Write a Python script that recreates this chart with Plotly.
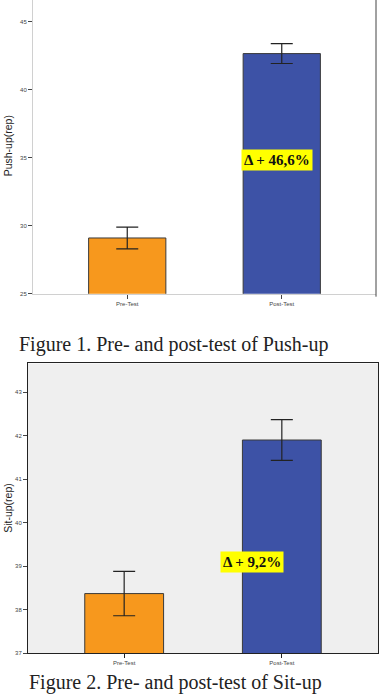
import plotly.graph_objects as go

W, H = 381, 699

categories = ["Pre-Test", "Post-Test"]
pushup_means = [29.1, 42.66]
pushup_err = [0.8, 0.73]
situp_means = [38.37, 41.9]
situp_err = [0.51, 0.47]
bar_colors = ["#F7981D", "#3D52A6"]
pushup_ticks = [25, 30, 35, 40, 45]
situp_ticks = [37, 38, 39, 40, 41, 42, 43]
pushup_label = "Δ + 46,6%"
situp_label = "Δ + 9,2%"

def px_x(p):
    return p / W

def px_y(p):
    return (H - p) / H

fig = go.Figure()

fig.add_trace(go.Bar(
    x=categories, y=pushup_means, xaxis="x", yaxis="y",
    marker=dict(color=bar_colors, line=dict(color="#3a3a3a", width=1)),
    width=0.5,
    error_y=dict(type="data", array=pushup_err, color="#222", thickness=1.2, width=11),
    showlegend=False,
))
fig.add_trace(go.Bar(
    x=categories, y=situp_means, xaxis="x2", yaxis="y2",
    marker=dict(color=bar_colors, line=dict(color="#3a3a3a", width=1)),
    width=0.5,
    error_y=dict(type="data", array=situp_err, color="#222", thickness=1.2, width=11),
    showlegend=False,
))

tickfont = dict(family="Liberation Sans, Arial, sans-serif", size=6, color="#444")

fig.update_layout(
    width=W, height=H,
    margin=dict(l=0, r=0, t=0, b=0),
    paper_bgcolor="white",
    plot_bgcolor="rgba(0,0,0,0)",
    bargap=0.5,
    xaxis=dict(
        domain=[px_x(33), px_x(376)], anchor="y",
        type="category", range=[-0.61, 1.61],
        showline=True, linecolor="#d0d0d0", linewidth=1,
        ticks="outside", ticklen=4, tickcolor="#444", tickwidth=1,
        tickfont=tickfont, showgrid=False, zeroline=False,
    ),
    yaxis=dict(
        domain=[px_y(295), 1], anchor="x",
        range=[25, 46.6],
        tickvals=pushup_ticks,
        showline=True, linecolor="#d0d0d0", linewidth=1,
        ticks="outside", ticklen=4, tickcolor="#444", tickwidth=1,
        tickfont=tickfont, showgrid=False, zeroline=False,
    ),
    xaxis2=dict(
        domain=[px_x(28), px_x(378)], anchor="y2",
        type="category", range=[-0.61, 1.61],
        showline=True, linecolor="#222", linewidth=1, mirror=True,
        ticks="outside", ticklen=4, tickcolor="#222", tickwidth=1,
        tickfont=tickfont, showgrid=False, zeroline=False,
    ),
    yaxis2=dict(
        domain=[px_y(656), px_y(365)], anchor="x2",
        range=[37, 43.66],
        tickvals=situp_ticks,
        showline=True, linecolor="#222", linewidth=1, mirror=True,
        ticks="outside", ticklen=4, tickcolor="#444", tickwidth=1,
        tickfont=tickfont, showgrid=False, zeroline=False,
    ),
    shapes=[
        dict(type="rect", xref="x2 domain", yref="y2 domain", x0=0, x1=1, y0=0, y1=1,
             fillcolor="#efefef", line=dict(width=0), layer="below"),
        dict(type="line", xref="x domain", yref="y domain", x0=1, x1=1, y0=-0.01, y1=1,
             line=dict(color="#444", width=1)),
    ],
)

annots = [
    dict(text="Push-up(rep)", x=px_x(8), y=px_y(147), textangle=-90,
         font=dict(family="Liberation Sans, Arial, sans-serif", size=10.5, color="#222")),
    dict(text="Sit-up(rep)", x=px_x(8), y=px_y(510), textangle=-90,
         font=dict(family="Liberation Sans, Arial, sans-serif", size=10.5, color="#222")),
    dict(text="<b>" + pushup_label + "</b>", x=px_x(277), y=px_y(161), bgcolor="#FFFF00", borderpad=2,
         font=dict(family="Liberation Serif, Times New Roman, serif", size=15, color="#111")),
    dict(text="<b>" + situp_label + "</b>", x=px_x(252), y=px_y(564), bgcolor="#FFFF00", borderpad=2,
         font=dict(family="Liberation Serif, Times New Roman, serif", size=15, color="#111")),
    dict(text="Figure 1. Pre- and post-test of Push-up", x=px_x(17), y=px_y(346), xanchor="left",
         font=dict(family="Liberation Serif, Times New Roman, serif", size=20, color="#222")),
    dict(text="Figure 2. Pre- and post-test of Sit-up", x=px_x(27), y=0, xanchor="left",
         yanchor="bottom",
         font=dict(family="Liberation Serif, Times New Roman, serif", size=20, color="#222")),
]
for a in annots:
    a.setdefault("xref", "paper")
    a.setdefault("yref", "paper")
    a.setdefault("showarrow", False)
    a.setdefault("xanchor", "center")
    a.setdefault("yanchor", "middle")
    fig.add_annotation(**a)

fig.write_html("out.html")
